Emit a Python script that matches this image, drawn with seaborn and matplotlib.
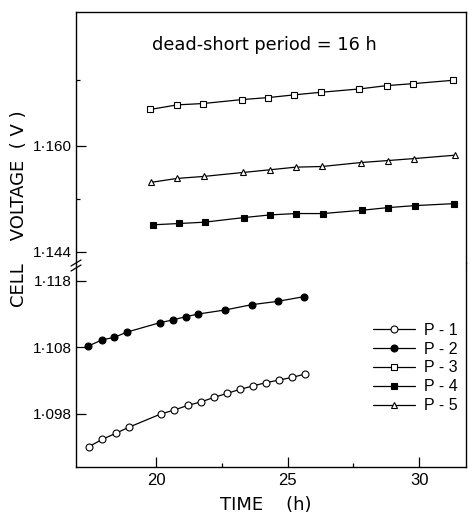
import matplotlib
matplotlib.use("Agg")
import matplotlib.pyplot as plt
import seaborn as sns
from matplotlib.lines import Line2D
from matplotlib.ticker import FixedLocator

# ---- data ----
p1_t = [17.45, 17.96, 18.47, 18.96, 20.18, 20.70, 21.21, 21.70, 22.21, 22.71, 23.19, 23.68, 24.17, 24.69, 25.18, 25.68]
p1_v = [1.0931, 1.0942, 1.0951, 1.0960, 1.0980, 1.0986, 1.0993, 1.0998, 1.1005, 1.1011, 1.1017, 1.1022, 1.1027, 1.1031, 1.1035, 1.1040]

p2_t = [17.43, 17.94, 18.41, 18.91, 20.15, 20.63, 21.13, 21.61, 22.62, 23.64, 24.63, 25.62]
p2_v = [1.1082, 1.1091, 1.1095, 1.1103, 1.1117, 1.1121, 1.1126, 1.1130, 1.1136, 1.1144, 1.1149, 1.1156]

p3_t = [19.77, 20.81, 21.79, 23.28, 24.27, 25.23, 26.27, 27.73, 28.76, 29.77, 31.27]
p3_v = [1.1655, 1.1662, 1.1664, 1.1670, 1.1673, 1.1677, 1.1681, 1.1686, 1.1691, 1.1694, 1.1699]

p4_t = [19.87, 20.89, 21.85, 23.35, 24.35, 25.32, 26.34, 27.83, 28.82, 29.85, 31.34]
p4_v = [1.1481, 1.1483, 1.1485, 1.1492, 1.1496, 1.1498, 1.1498, 1.1503, 1.1507, 1.1510, 1.1513]

p5_t = [19.80, 20.80, 21.81, 23.31, 24.32, 25.31, 26.31, 27.79, 28.82, 29.82, 31.35]
p5_v = [1.1545, 1.1551, 1.1554, 1.1560, 1.1564, 1.1568, 1.1569, 1.1575, 1.1578, 1.1581, 1.1586]

series_labels = ["P - 1", "P - 2", "P - 3", "P - 4", "P - 5"]

x_ticks = [20, 25, 30]
x_tick_labels = ["20", "25", "30"]
x_minor = [22.5, 27.5]
upper_ticks = [1.144, 1.160]
upper_tick_labels = ["1·144", "1·160"]
upper_minor = [1.152, 1.170]
lower_ticks = [1.098, 1.108, 1.118]
lower_tick_labels = ["1·098", "1·108", "1·118"]

title_text = "dead-short period = 16 h"
y_label = "CELL    VOLTAGE  ( V )"
x_label = "TIME    (h)"

# ---- style ----
sns.set_style("ticks")
plt.rcParams["font.family"] = ["DejaVu Sans"]
plt.rcParams["text.color"] = "black"
plt.rcParams["axes.labelcolor"] = "black"
plt.rcParams["xtick.color"] = "black"
plt.rcParams["ytick.color"] = "black"
plt.rcParams["xtick.labelcolor"] = "black"
plt.rcParams["ytick.labelcolor"] = "black"
narrow = ["Liberation Sans", "DejaVu Sans"]

W, H = 470, 513
fig = plt.figure(figsize=(W / 100, H / 100), dpi=100)

L, R = 76, 466
top_y0, brk, bot_y1 = 12, 263, 467
ax_top = fig.add_axes([L / W, (H - brk) / H, (R - L) / W, (brk - top_y0) / H])
ax_bot = fig.add_axes([L / W, (H - bot_y1) / H, (R - L) / W, (bot_y1 - brk) / H])

line_kw = dict(color="black", lw=0.9, markersize=5, markeredgewidth=0.8,
               markeredgecolor="black", legend=False)

sns.lineplot(x=p1_t, y=p1_v, ax=ax_bot, marker="o", markerfacecolor="white", label=series_labels[0], **line_kw)
sns.lineplot(x=p2_t, y=p2_v, ax=ax_bot, marker="o", markerfacecolor="black", label=series_labels[1], **line_kw)
sns.lineplot(x=p3_t, y=p3_v, ax=ax_top, marker="s", markerfacecolor="white", label=series_labels[2], **line_kw)
sns.lineplot(x=p4_t, y=p4_v, ax=ax_top, marker="s", markerfacecolor="black", label=series_labels[3], **line_kw)
sns.lineplot(x=p5_t, y=p5_v, ax=ax_top, marker="^", markerfacecolor="white", label=series_labels[4], **line_kw)

xlim = (16.96, 31.78)
for ax in (ax_top, ax_bot):
    ax.set_xlim(*xlim)
    ax.set_xlabel("")
    ax.set_ylabel("")
    for s in ax.spines.values():
        s.set_linewidth(1.0)
        s.set_color("black")
    ax.tick_params(which="both", direction="in", width=0.9, colors="black")
    ax.tick_params(which="major", length=7)
    ax.tick_params(which="minor", length=3)
    ax.set_facecolor("white")
    if ax.get_legend() is not None:
        ax.get_legend().remove()

ax_top.set_ylim(1.14234, 1.18021)
ax_bot.set_ylim(1.09005, 1.12065)

ax_top.spines["bottom"].set_visible(False)
ax_bot.spines["top"].set_visible(False)
ax_top.spines["right"].set_visible(True)
ax_top.spines["top"].set_visible(True)
ax_bot.spines["right"].set_visible(True)

ax_top.set_xticks([])
ax_top.tick_params(axis="x", which="both", bottom=False, labelbottom=False)
ax_top.yaxis.set_major_locator(FixedLocator(upper_ticks))
ax_top.set_yticklabels(upper_tick_labels)
ax_top.yaxis.set_minor_locator(FixedLocator(upper_minor))

ax_bot.set_xticks(x_ticks)
ax_bot.set_xticklabels(x_tick_labels)
ax_bot.xaxis.set_minor_locator(FixedLocator(x_minor))
ax_bot.set_yticks(lower_ticks)
ax_bot.set_yticklabels(lower_tick_labels)

for ax in (ax_top, ax_bot):
    ax.tick_params(axis="y", pad=3)
    for lab in ax.get_yticklabels():
        lab.set_family(narrow)
        lab.set_fontsize(11)
        lab.set_color("black")
    for lab in ax.get_xticklabels():
        lab.set_family(narrow)
        lab.set_fontsize(12)
        lab.set_color("black")
ax_bot.tick_params(axis="x", pad=4)

# break marks on left spine
for dy in (0, 5):
    fig.add_artist(Line2D([71 / W, 81 / W], [(H - (266 + dy)) / H, (H - (260 + dy)) / H],
                          color="black", lw=0.9, transform=fig.transFigure))

# title text
ax_top.text((152 - L) / (R - L), (brk - 45) / (brk - top_y0), title_text,
            transform=ax_top.transAxes, ha="left", va="center", fontsize=12.8, color="black")

# axis labels
fig.text(19 / W, (H - 209) / H, y_label, rotation=90, ha="center", va="center", fontsize=13, color="black")
fig.text(266 / W, (H - 505) / H, x_label, ha="center", va="center", fontsize=13, color="black")

# legend
h1, l1 = ax_bot.get_legend_handles_labels()
h2, l2 = ax_top.get_legend_handles_labels()
handles = h1 + h2
labels = l1 + l2
leg = ax_bot.legend(handles, labels, loc="center left",
                    bbox_to_anchor=(373 / W, (H - 368) / H), bbox_transform=fig.transFigure,
                    frameon=False, borderpad=0, borderaxespad=0, handlelength=2.6,
                    handletextpad=0.6, labelspacing=0.25, prop={"family": narrow, "size": 11.5})
for t in leg.get_texts():
    t.set_color("black")

fig.savefig("out.png", dpi=100, facecolor="white")
